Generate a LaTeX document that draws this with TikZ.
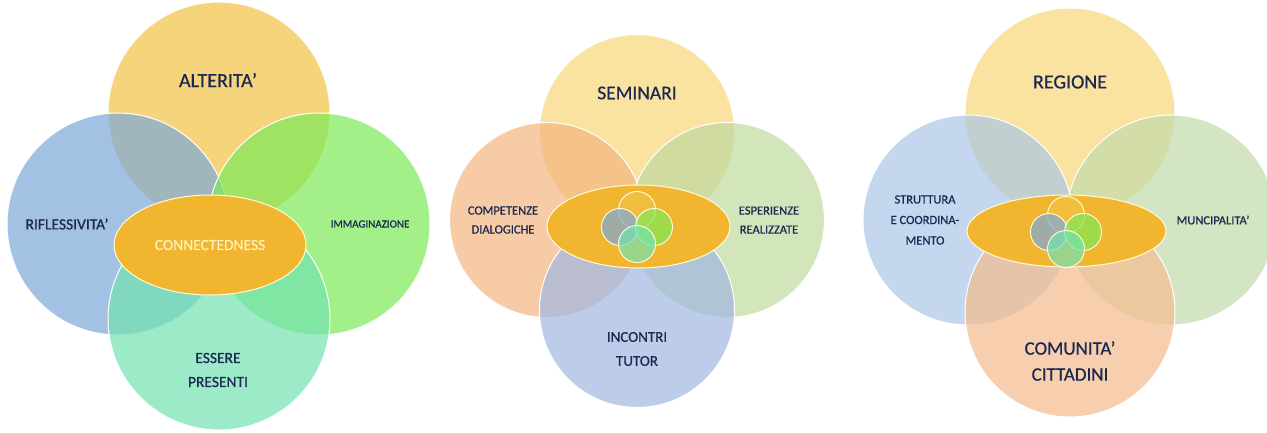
\documentclass[tikz,border=0pt]{standalone}
\usepackage{fontspec}
\setmainfont{Carlito}[FakeBold=0.6]
\usetikzlibrary{shapes.geometric}

\definecolor{navy}{HTML}{1B2850}
\definecolor{coreorange}{HTML}{F2B52F}
\definecolor{coretext}{HTML}{FDF2B8}
% first set of rings
\definecolor{ayellow}{HTML}{F2C343}
\definecolor{ablue}{HTML}{7CA8D8}
\definecolor{agreen}{HTML}{7DEA58}
\definecolor{ateal}{HTML}{72E2B0}
% second set
\definecolor{byellow}{HTML}{F9D878}
\definecolor{bpeach}{HTML}{F3B581}
\definecolor{bgreen}{HTML}{BFDA9F}
\definecolor{bblue}{HTML}{A1B8E1}
% third set
\definecolor{cblue}{HTML}{ABC7E7}
\definecolor{cgreen}{HTML}{C2DBAB}
\definecolor{cpeach}{HTML}{F5BC8E}

\begin{document}
\begin{tikzpicture}[x=1pt, y=-1pt,
    ring/.style={circle, draw=white, line width=1pt, inner sep=0pt,
      minimum size=#1, fill opacity=0.7},
    mini/.style={circle, draw=white!90!yellow, line width=0.9pt, inner sep=0pt,
      minimum size=37pt, fill opacity=0.7},
    core/.style={ellipse, draw=white!85!yellow, line width=1pt,
      fill=coreorange, inner sep=0pt},
    lbl/.style={text=navy, align=center, inner sep=0pt},
  ]
  \useasboundingbox (0,0) rectangle (1267,432);
  \clip (0,0) rectangle (1267,432);
  \fill[white] (0,0) rectangle (1267,432);

  % left diagram
  \node[ring=222pt, fill=ayellow] (alt) at (219,113) {};
  \node[ring=222pt, fill=ablue]   (rif) at (118,224) {};
  \node[ring=222pt, fill=agreen]  (imm) at (319,224) {};
  \node[ring=222pt, fill=ateal]   (ess) at (219,319) {};
  \node[core, minimum width=192pt, minimum height=100pt] (conn) at (210,245) {};

  \node[lbl, font=\fontsize{20}{24}\selectfont] (altL) at (218,80) {ALTERITA’};
  \node[lbl, font=\fontsize{15.5}{24}\selectfont] (rifL) at (67,224) {RIFLESSIVITA’};
  \node[lbl, font=\fontsize{11}{13}\selectfont] (immL) at (370,224) {IMMAGINAZIONE};
  \node[lbl, font=\fontsize{15.5}{24}\selectfont] (essL) at (218,370) {ESSERE\\PRESENTI};
  \node[lbl, text=coretext, font=\fontsize{15.5}{24}\selectfont] (connL) at (conn) {CONNECTEDNESS};

  % middle diagram
  \node[ring=195pt, fill=byellow] (sem) at (637,132) {};
  \node[ring=195pt, fill=bpeach]  (comp) at (547,220) {};
  \node[ring=195pt, fill=bgreen]  (esp) at (727,220) {};
  \node[ring=195pt, fill=bblue]   (inc) at (637,310) {};
  \node[core, minimum width=183pt, minimum height=83pt] (coreB) at (638.5,226.5) {};

  \node[mini, fill=ayellow] (bt) at (637,210) {};
  \node[mini, fill=ablue]   (bl) at (620,227) {};
  \node[mini, fill=agreen]  (br) at (654,227) {};
  \node[mini, fill=ateal]   (bb) at (637,244) {};

  \node[lbl, font=\fontsize{19.5}{24}\selectfont] (semL) at (637,93) {SEMINARI};
  \node[lbl, font=\fontsize{12.5}{19}\selectfont] (compL) at (503,220) {COMPETENZE\\DIALOGICHE};
  \node[lbl, font=\fontsize{12.5}{19}\selectfont] (espL) at (769,220) {ESPERIENZE\\REALIZZATE};
  \node[lbl, font=\fontsize{15}{24}\selectfont] (incL) at (637,349) {INCONTRI\\TUTOR};

  % right diagram
  \node[ring=210pt, fill=byellow] (reg) at (1070,113) {};
  \node[ring=210pt, fill=cblue]   (str) at (968,220) {};
  \node[ring=210pt, fill=cgreen]  (mun) at (1171,220) {};
  \node[ring=210pt, fill=cpeach]  (com) at (1070,312) {};
  \node[core, minimum width=199pt, minimum height=72pt] (coreC) at (1066.5,231) {};

  \node[mini, fill=ayellow] (ct) at (1066,215) {};
  \node[mini, fill=ablue]   (cl) at (1049,232) {};
  \node[mini, fill=agreen]  (cr) at (1083,232) {};
  \node[mini, fill=ateal]   (cb) at (1066,249) {};

  \node[lbl, font=\fontsize{20}{24}\selectfont] (regL) at (1070,82) {REGIONE};
  \node[lbl, font=\fontsize{12.5}{20.5}\selectfont] (strL) at (925,220) {STRUTTURA\\E COORDINA-\\MENTO};
  \node[lbl, font=\fontsize{12.5}{20}\selectfont] (munL) at (1213,220) {MUNCIPALITA’};
  \node[lbl, font=\fontsize{19}{26}\selectfont] (comL) at (1070,361) {COMUNITA’\\CITTADINI};
\end{tikzpicture}
\end{document}
